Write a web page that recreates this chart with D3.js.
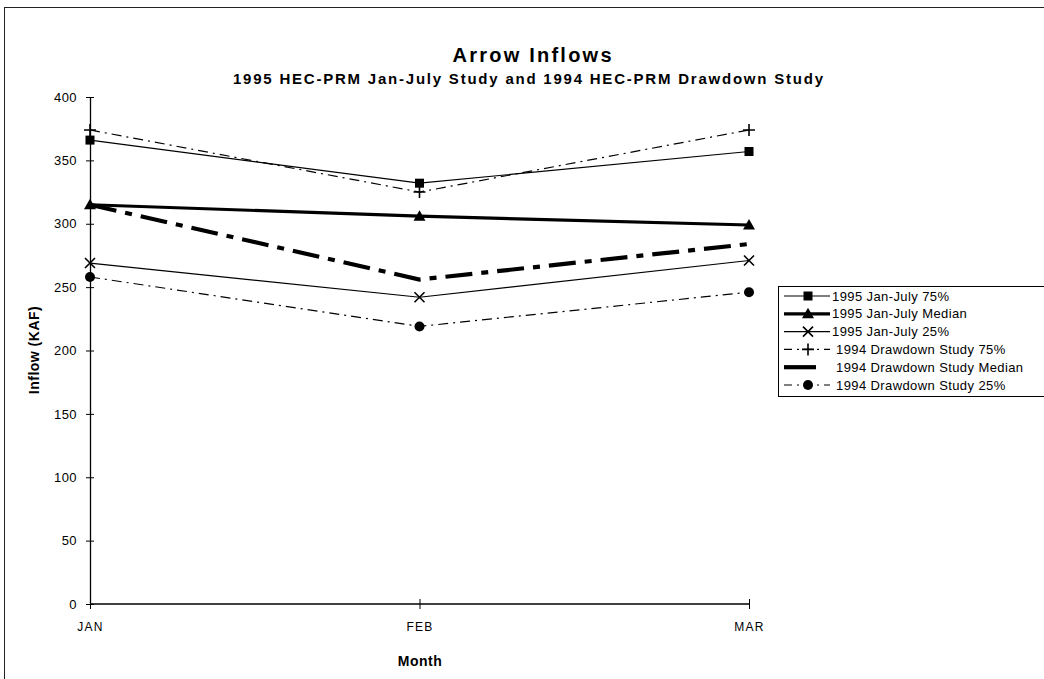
<!DOCTYPE html>
<html>
<head>
<meta charset="utf-8">
<script src="https://cdn.jsdelivr.net/npm/d3@7/dist/d3.min.js"></script>
<style>
  html, body { margin: 0; padding: 0; background: #fff; }
  svg { display: block; }
  text { font-family: "Liberation Sans", Arial, Helvetica, sans-serif; fill: #000; }
</style>
</head>
<body>
<svg id="chart" width="1044" height="679"></svg>
<script>
const months = ["JAN", "FEB", "MAR"];
const yTicks = [0, 50, 100, 150, 200, 250, 300, 350, 400];
const seriesNames = [
  "1995 Jan-July 75%",
  "1995 Jan-July Median",
  "1995 Jan-July 25%",
  "1994 Drawdown Study 75%",
  "1994 Drawdown Study Median",
  "1994 Drawdown Study 25%"
];
const jan95p75 = [366, 332, 357];
const jan95med = [315, 306, 299];
const jan95p25 = [269, 242, 271];
const dd94p75 = [374, 325, 374];
const dd94med = [315, 256, 284];
const dd94p25 = [258, 219, 246];

const styles = [
  { w: 1.2, dash: null, marker: "square" },
  { w: 3.2, dash: null, marker: "triangle" },
  { w: 1.2, dash: null, marker: "x" },
  { w: 1.2, dash: "10,5,2,5", marker: "plus" },
  { w: 4.2, dash: "27,9,7,9", marker: null },
  { w: 1.2, dash: "10,5,2,5", marker: "circle" }
];
const allValues = [jan95p75, jan95med, jan95p25, dd94p75, dd94med, dd94p25];

const svg = d3.select("#chart");

// outer frame
svg.append("rect").attr("x", 4.5).attr("y", 7.5).attr("width", 1100).attr("height", 700)
  .attr("fill", "none").attr("stroke", "#222").attr("stroke-width", 1);

const x = d3.scalePoint().domain(months).range([90, 749]);
const y = d3.scaleLinear().domain([0, 400]).range([604, 97]);

// titles
svg.append("text").attr("x", 532).attr("y", 62).attr("text-anchor", "middle")
  .attr("font-size", 20).attr("font-weight", "bold")
  .attr("textLength", 159).attr("lengthAdjust", "spacing")
  .text("Arrow Inflows");
svg.append("text").attr("x", 528).attr("y", 84).attr("text-anchor", "middle")
  .attr("font-size", 15).attr("font-weight", "bold")
  .attr("textLength", 590).attr("lengthAdjust", "spacing")
  .text("1995 HEC-PRM Jan-July Study and 1994 HEC-PRM Drawdown Study");

// y axis
const yAxis = svg.append("g").attr("transform", "translate(90,0)")
  .call(d3.axisLeft(y).tickValues(yTicks).tickSizeOuter(0).tickSizeInner(4).tickPadding(9));
yAxis.select(".domain").attr("stroke", "#000").attr("stroke-width", 1.3);
yAxis.selectAll(".tick line").attr("x1", -4).attr("x2", 4).attr("stroke", "#000");
yAxis.selectAll(".tick text").attr("font-size", 13)
  .attr("font-family", "Liberation Sans, Arial, sans-serif").attr("letter-spacing", 0.4);

// x axis
const xAxis = svg.append("g").attr("transform", "translate(0,604)")
  .call(d3.axisBottom(x).tickSizeOuter(0).tickSizeInner(5).tickPadding(13));
xAxis.select(".domain").attr("stroke", "#000").attr("stroke-width", 1.3).attr("d", "M90,0H749");
xAxis.selectAll(".tick line").attr("y1", -5).attr("y2", 5).attr("stroke", "#000");
xAxis.selectAll(".tick text").attr("font-size", 12)
  .attr("font-family", "Liberation Sans, Arial, sans-serif").attr("letter-spacing", 1.2);

// axis titles
svg.append("text").attr("transform", "translate(39,350) rotate(-90)")
  .attr("text-anchor", "middle").attr("font-size", 14).attr("font-weight", "bold")
  .attr("letter-spacing", 0.5)
  .text("Inflow (KAF)");
svg.append("text").attr("x", 420).attr("y", 666).attr("text-anchor", "middle")
  .attr("font-size", 14).attr("font-weight", "bold").attr("letter-spacing", 0.5).text("Month");

function drawMarker(g, type, cx, cy) {
  if (type === "square") {
    g.append("rect").attr("x", cx - 4.5).attr("y", cy - 4.5).attr("width", 9).attr("height", 9).attr("fill", "#000");
  } else if (type === "triangle") {
    g.append("path").attr("d", `M${cx},${cy - 6}L${cx + 6},${cy + 4.5}L${cx - 6},${cy + 4.5}Z`).attr("fill", "#000");
  } else if (type === "x") {
    g.append("path").attr("d", `M${cx - 5},${cy - 5}L${cx + 5},${cy + 5}M${cx - 5},${cy + 5}L${cx + 5},${cy - 5}`)
      .attr("stroke", "#000").attr("stroke-width", 1.6);
  } else if (type === "plus") {
    g.append("path").attr("d", `M${cx - 6},${cy}L${cx + 6},${cy}M${cx},${cy - 6}L${cx},${cy + 6}`)
      .attr("stroke", "#000").attr("stroke-width", 1.6);
  } else if (type === "circle") {
    g.append("circle").attr("cx", cx).attr("cy", cy).attr("r", 5).attr("fill", "#000");
  }
}

const line = d3.line().x((d, i) => x(months[i])).y(d => y(d));
const plot = svg.append("g");
allValues.forEach((vals, si) => {
  const st = styles[si];
  plot.append("path").datum(vals).attr("d", line)
    .attr("fill", "none").attr("stroke", "#000").attr("stroke-width", st.w)
    .attr("stroke-dasharray", st.dash);
  if (st.marker) vals.forEach((v, i) => drawMarker(plot, st.marker, x(months[i]), y(v)));
});

// legend
const lg = svg.append("g");
lg.append("rect").attr("x", 778.5).attr("y", 286.5).attr("width", 300).attr("height", 110)
  .attr("fill", "#fff").attr("stroke", "#000").attr("stroke-width", 1);
seriesNames.forEach((name, i) => {
  const st = styles[i];
  const ly = 296 + i * 17.8;
  lg.append("line").attr("x1", 784).attr("x2", i === 4 ? 816 : 830).attr("y1", ly).attr("y2", ly)
    .attr("stroke", "#000").attr("stroke-width", st.w)
    .attr("stroke-dasharray", st.dash && i !== 4 ? "8,5,2,5" : null);
  if (st.marker) drawMarker(lg, st.marker, 808, ly);
  lg.append("text").attr("x", i < 3 ? 832 : 836).attr("y", ly + 4.5)
    .attr("font-size", 13).attr("letter-spacing", 0.4).text(name);
});
</script>
</body>
</html>
